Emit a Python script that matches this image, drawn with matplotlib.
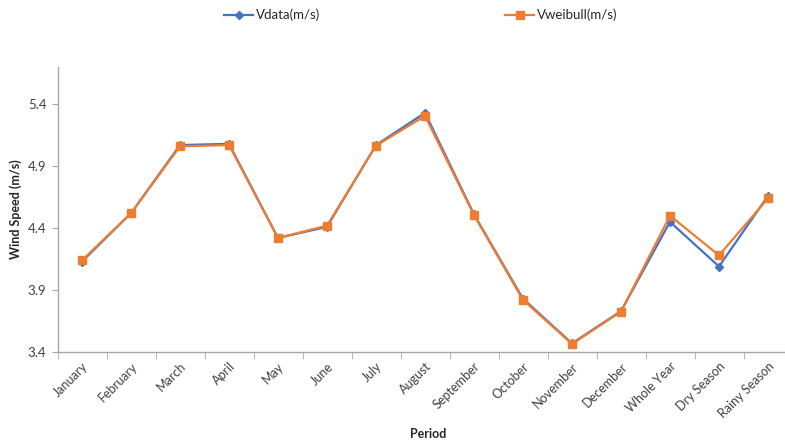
import matplotlib.pyplot as plt
import numpy as np

periods = ['January', 'February', 'March', 'April', 'May', 'June', 'July',
           'August', 'September', 'October', 'November', 'December',
           'Whole Year', 'Dry Season', 'Rainy Season']
v_data = [4.13, 4.52, 5.07, 5.08, 4.32, 4.41, 5.07, 5.33, 4.51, 3.83, 3.47,
          3.73, 4.45, 4.09, 4.66]
v_weibull = [4.14, 4.52, 5.06, 5.07, 4.32, 4.42, 5.065, 5.305, 4.505, 3.82, 3.465,
             3.725, 4.50, 4.18, 4.64]
yticks = [3.4, 3.9, 4.4, 4.9, 5.4]

plt.rcParams['font.family'] = ['Lato', 'DejaVu Sans']

fig = plt.figure(figsize=(7.85, 4.42), dpi=100)
ax = fig.add_axes([57.5 / 785, 1 - 352 / 442, 735 / 785, 285 / 442])

x = np.arange(len(periods))
ax.plot(x, v_data, color='#4472C4', lw=1.6, marker='D', ms=4,
        label='Vdata(m/s)', zorder=3)
ax.plot(x, v_weibull, color='#ED7D31', lw=1.6, marker='s', ms=5.5,
        label='Vweibull(m/s)', zorder=4)

ax.set_xlim(-0.5, len(periods) - 0.5)
ax.set_ylim(3.4, 5.7)
ax.set_yticks(yticks)
ax.set_yticklabels([f'{v:.1f}' for v in yticks])
ax.set_xticks(x)
ax.set_xticklabels(periods, rotation=45, ha='right', rotation_mode='anchor')
ax.set_xticks(np.arange(len(periods) + 1) - 0.5, minor=True)

ax.tick_params(axis='x', which='major', length=0, pad=6, labelsize=9,
               labelcolor='#404040')
ax.tick_params(axis='x', which='minor', length=5, color='#A6A6A6')
ax.tick_params(axis='y', length=4, color='#A6A6A6', pad=4, labelsize=9.5,
               labelcolor='#404040')

for s in ['top', 'right']:
    ax.spines[s].set_visible(False)
for s in ['left', 'bottom']:
    ax.spines[s].set_color('#A6A6A6')
    ax.spines[s].set_linewidth(1.0)

ax.set_ylabel('Wind Speed (m/s)', fontsize=9, fontweight='bold', labelpad=4,
              color='#262626')
fig.text(0.545, 1 - 434 / 442, 'Period', fontsize=9, fontweight='bold',
         ha='center', va='center', color='#262626')

fig.legend(loc='center', bbox_to_anchor=(0.536, 1 - 15 / 442), ncol=2,
           frameon=False, fontsize=9.5, columnspacing=14, handlelength=2.2,
           handletextpad=0.2, labelcolor='#262626')

fig.savefig('out.png', dpi=100)
